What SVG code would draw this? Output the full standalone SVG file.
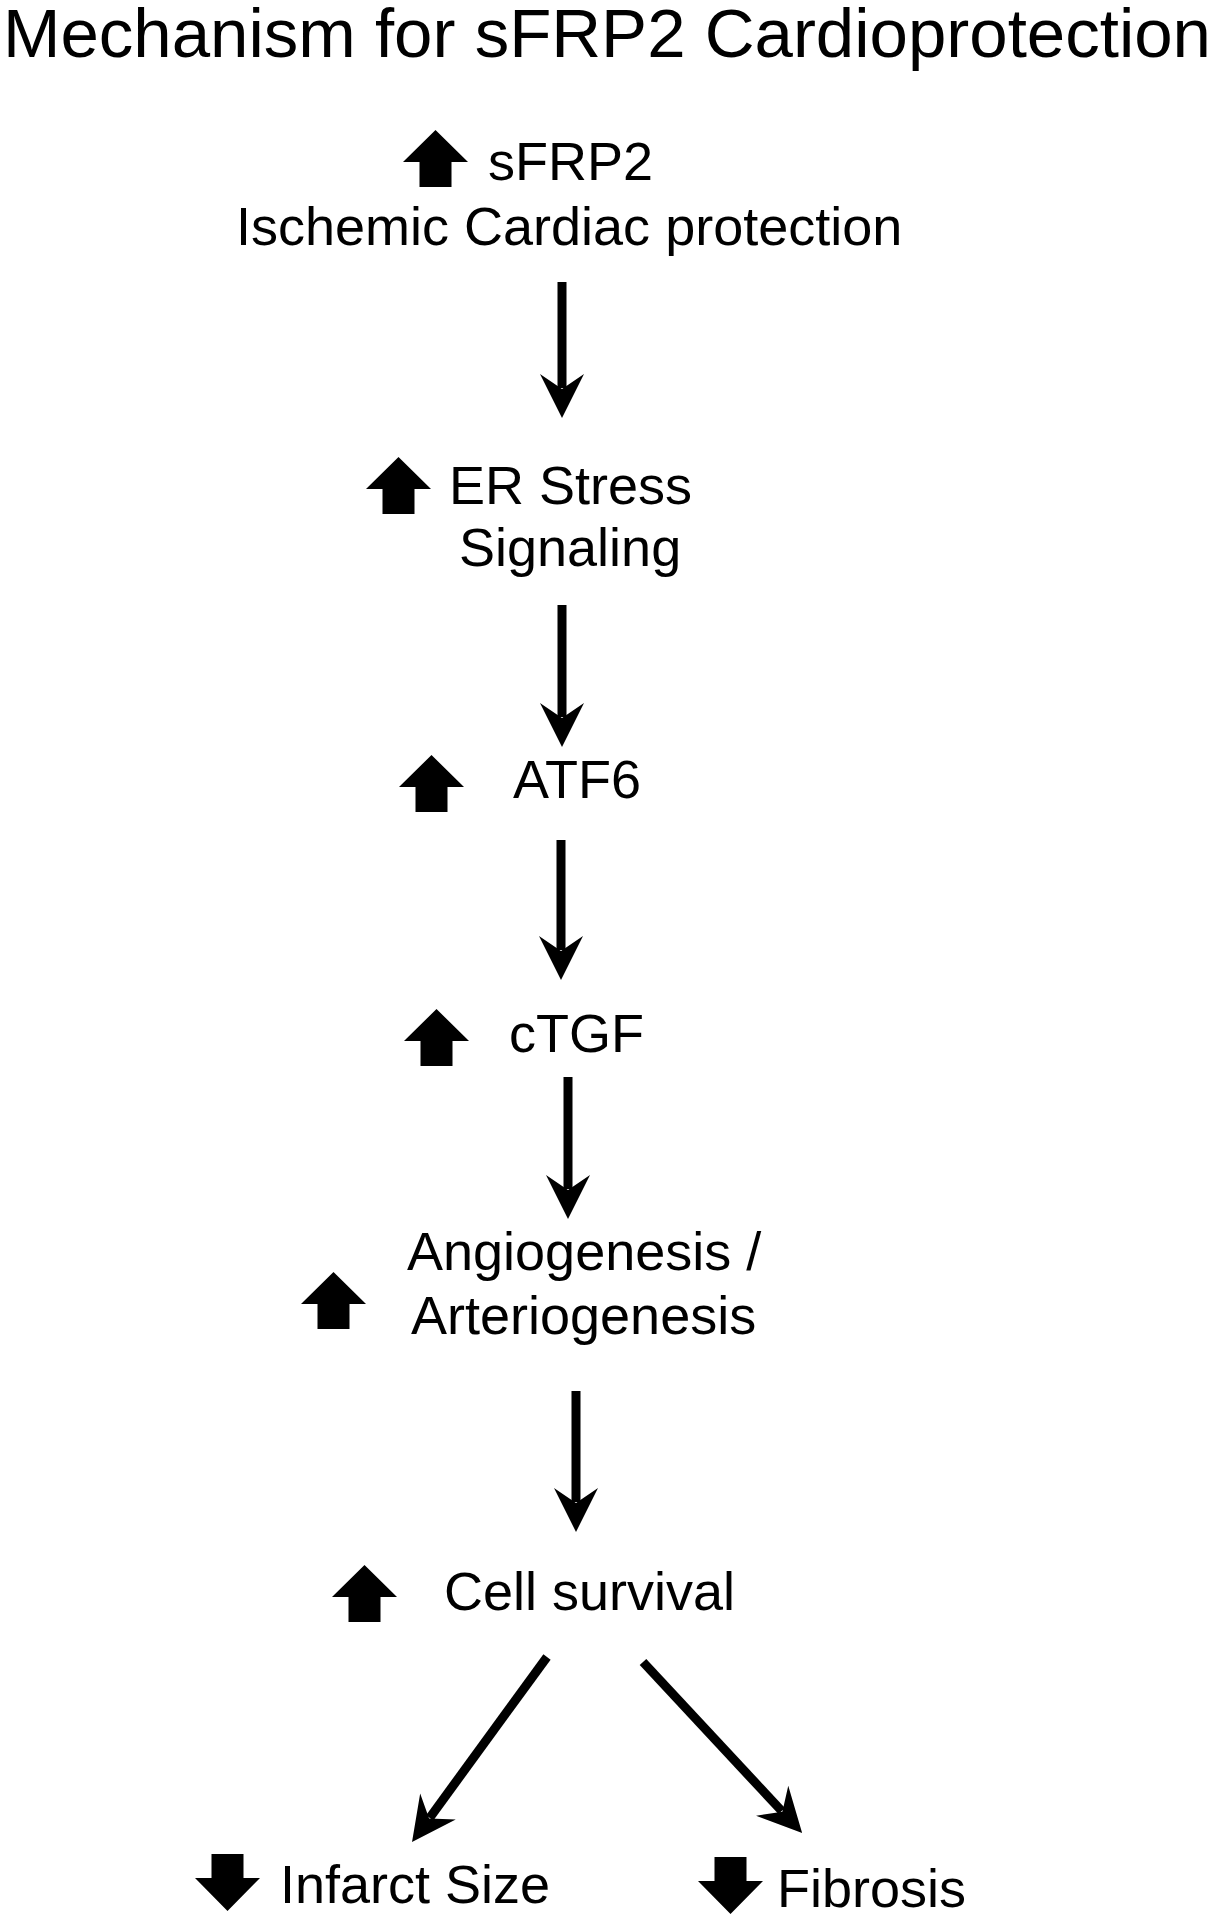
<svg xmlns="http://www.w3.org/2000/svg" xmlns:xlink="http://www.w3.org/1999/xlink" width="1219" height="1920" viewBox="0 0 1219 1920">
<style>
text{font-family:"Liberation Sans",Arial,sans-serif;fill:#000}
.t{font-size:54px}
.title{font-size:69px}
.c{stroke:#000;stroke-width:9;fill:none;marker-end:url(#ah)}
</style>
<defs>
<marker id="ah" markerUnits="userSpaceOnUse" viewBox="-16 -24 50 48" markerWidth="50" markerHeight="48" refX="0" refY="0" orient="auto">
<path d="M30,0 L-14,-22 L1,0 L-14,22 Z" fill="#000"/>
</marker>
<path id="up" d="M32.5,0 L65,32 L48.5,32 L48.5,57 L16.5,57 L16.5,32 L0,32 Z" fill="#000"/>
<path id="down" d="M16.5,0 L48.5,0 L48.5,24 L65,24 L32.5,57 L0,24 L16.5,24 Z" fill="#000"/>
</defs>
<rect width="1219" height="1920" fill="#fff"/>
<text class="title" x="3" y="57">Mechanism for sFRP2 Cardioprotection</text>

<g id="node-sfrp2">
<use xlink:href="#up" x="403" y="130"/>
<text class="t" x="488" y="180">sFRP2</text>
<text class="t" x="236" y="245">Ischemic Cardiac protection</text>
</g>
<g id="node-er">
<use xlink:href="#up" x="366" y="457"/>
<text class="t" x="449" y="504">ER Stress</text>
<text class="t" x="459" y="566">Signaling</text>
</g>
<g id="node-atf6">
<use xlink:href="#up" x="399" y="755"/>
<text class="t" x="513" y="798">ATF6</text>
</g>
<g id="node-ctgf">
<use xlink:href="#up" x="404" y="1009"/>
<text class="t" x="509" y="1052">cTGF</text>
</g>
<g id="node-angio">
<use xlink:href="#up" x="301" y="1272"/>
<text class="t" x="407" y="1270">Angiogenesis /</text>
<text class="t" x="411" y="1334">Arteriogenesis</text>
</g>
<g id="node-cell">
<use xlink:href="#up" x="332" y="1565"/>
<text class="t" x="444" y="1610">Cell survival</text>
</g>
<g id="node-infarct">
<use xlink:href="#down" x="195" y="1854"/>
<text class="t" x="280" y="1903">Infarct Size</text>
</g>
<g id="node-fibrosis">
<use xlink:href="#down" x="698" y="1857"/>
<text class="t" x="777" y="1907">Fibrosis</text>
</g>

<g id="connectors">
<line class="c" x1="562" y1="282" x2="562" y2="388"/>
<line class="c" x1="562" y1="605" x2="562" y2="717"/>
<line class="c" x1="561" y1="840" x2="561" y2="950"/>
<line class="c" x1="568" y1="1077" x2="568" y2="1189"/>
<line class="c" x1="576" y1="1391" x2="576" y2="1502"/>
<line class="c" x1="547" y1="1657" x2="429.7" y2="1817.8"/>
<line class="c" x1="643" y1="1662" x2="781.7" y2="1811"/>
</g>
</svg>
